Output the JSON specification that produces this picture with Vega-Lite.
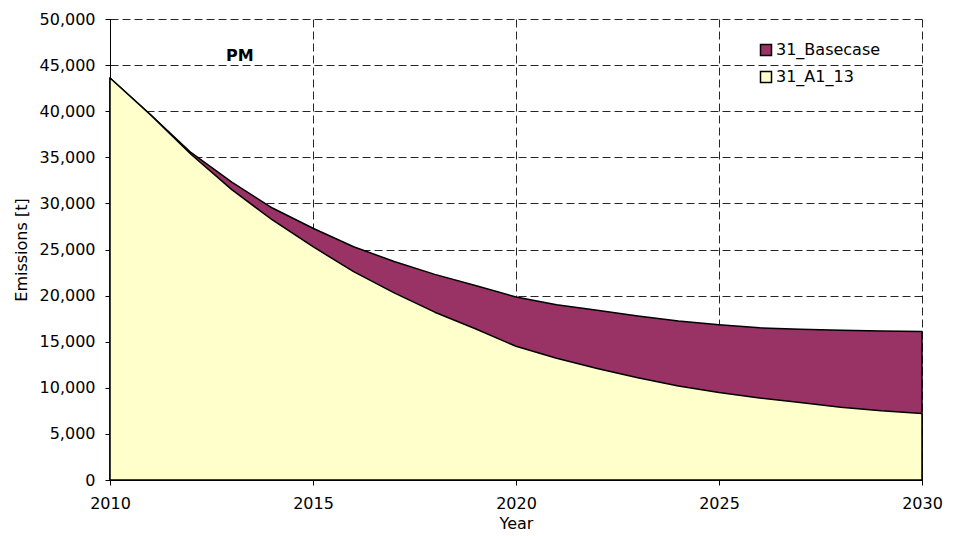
{
  "$schema": "https://vega.github.io/schema/vega-lite/v6.json",
  "width": 812,
  "height": 461,
  "autosize": "none",
  "padding": {"left": 110, "top": 19, "right": 33, "bottom": 56},
  "background": "white",
  "config": {
    "font": "DejaVu Sans",
    "view": {"stroke": null},
    "axis": {
      "labelFont": "DejaVu Sans",
      "titleFont": "DejaVu Sans",
      "labelFontSize": 16,
      "titleFontSize": 16,
      "titleFontWeight": "normal",
      "labelColor": "#000000",
      "titleColor": "#000000",
      "domainColor": "#000000",
      "tickColor": "#000000",
      "gridColor": "#000000",
      "gridDash": [8, 4],
      "gridWidth": 1,
      "gridOpacity": 0.85,
      "tickSize": 5,
      "labelFlush": false,
      "labelOverlap": false
    }
  },
  "datasets": {
    "series": [
      {"year": 2010, "series": "31_Basecase", "value": 43600},
      {"year": 2011, "series": "31_Basecase", "value": 39600},
      {"year": 2012, "series": "31_Basecase", "value": 35500},
      {"year": 2013, "series": "31_Basecase", "value": 32300},
      {"year": 2014, "series": "31_Basecase", "value": 29500},
      {"year": 2015, "series": "31_Basecase", "value": 27300},
      {"year": 2016, "series": "31_Basecase", "value": 25300},
      {"year": 2017, "series": "31_Basecase", "value": 23700},
      {"year": 2018, "series": "31_Basecase", "value": 22300},
      {"year": 2019, "series": "31_Basecase", "value": 21100},
      {"year": 2020, "series": "31_Basecase", "value": 19850},
      {"year": 2021, "series": "31_Basecase", "value": 19000},
      {"year": 2022, "series": "31_Basecase", "value": 18400},
      {"year": 2023, "series": "31_Basecase", "value": 17800},
      {"year": 2024, "series": "31_Basecase", "value": 17250},
      {"year": 2025, "series": "31_Basecase", "value": 16850},
      {"year": 2026, "series": "31_Basecase", "value": 16500},
      {"year": 2027, "series": "31_Basecase", "value": 16350},
      {"year": 2028, "series": "31_Basecase", "value": 16230},
      {"year": 2029, "series": "31_Basecase", "value": 16150},
      {"year": 2030, "series": "31_Basecase", "value": 16100},
      {"year": 2010, "series": "31_A1_13", "value": 43600},
      {"year": 2011, "series": "31_A1_13", "value": 39600},
      {"year": 2012, "series": "31_A1_13", "value": 35300},
      {"year": 2013, "series": "31_A1_13", "value": 31500},
      {"year": 2014, "series": "31_A1_13", "value": 28200},
      {"year": 2015, "series": "31_A1_13", "value": 25300},
      {"year": 2016, "series": "31_A1_13", "value": 22600},
      {"year": 2017, "series": "31_A1_13", "value": 20300},
      {"year": 2018, "series": "31_A1_13", "value": 18200},
      {"year": 2019, "series": "31_A1_13", "value": 16400},
      {"year": 2020, "series": "31_A1_13", "value": 14500},
      {"year": 2021, "series": "31_A1_13", "value": 13200},
      {"year": 2022, "series": "31_A1_13", "value": 12100},
      {"year": 2023, "series": "31_A1_13", "value": 11100},
      {"year": 2024, "series": "31_A1_13", "value": 10200},
      {"year": 2025, "series": "31_A1_13", "value": 9500},
      {"year": 2026, "series": "31_A1_13", "value": 8900},
      {"year": 2027, "series": "31_A1_13", "value": 8400},
      {"year": 2028, "series": "31_A1_13", "value": 7900},
      {"year": 2029, "series": "31_A1_13", "value": 7500},
      {"year": 2030, "series": "31_A1_13", "value": 7200}
    ],
    "label": [{"year": 2013.2, "value": 46000, "text": "PM"}]
  },
  "layer": [
    {
      "data": {"name": "series"},
      "transform": [{"filter": "datum.series === '31_Basecase'"}],
      "mark": {"type": "area", "stroke": "#000000", "strokeWidth": 1.5, "strokeJoin": "round"},
      "encoding": {
        "x": {
          "field": "year", "type": "quantitative",
          "scale": {"domain": [2010, 2030], "nice": false, "zero": false},
          "axis": {"values": [2010, 2015, 2020, 2025, 2030], "format": "d", "title": "Year", "labelPadding": 10, "titlePadding": 4, "grid": true}
        },
        "y": {
          "field": "value", "type": "quantitative", "stack": null,
          "scale": {"domain": [0, 50000], "nice": false},
          "axis": {"values": [0,5000,10000,15000,20000,25000,30000,35000,40000,45000,50000], "format": ",d", "title": "Emissions [t]", "labelPadding": 10, "titlePadding": 10, "grid": true}
        },
        "color": {
          "field": "series", "type": "nominal",
          "scale": {"domain": ["31_Basecase", "31_A1_13"], "range": ["#993366", "#FFFFCC"]},
          "legend": {
            "title": null, "orient": "none", "legendX": 648, "legendY": 23,
            "symbolType": "square", "symbolSize": 121, "symbolStrokeColor": "#000000", "symbolStrokeWidth": 1.5,
            "symbolOpacity": 1, "labelFontSize": 16, "labelFont": "DejaVu Sans", "labelColor": "#000000",
            "rowPadding": 9, "labelOffset": 2, "padding": 0
          }
        },
        "opacity": {"value": 1}
      }
    },
    {
      "data": {"name": "series"},
      "transform": [{"filter": "datum.series === '31_A1_13'"}],
      "mark": {"type": "area", "stroke": "#000000", "strokeWidth": 1.5, "strokeJoin": "round"},
      "encoding": {
        "x": {"field": "year", "type": "quantitative"},
        "y": {"field": "value", "type": "quantitative", "stack": null},
        "color": {"field": "series", "type": "nominal"},
        "opacity": {"value": 1}
      }
    },
    {
      "data": {"name": "label"},
      "mark": {"type": "text", "fontWeight": "bold", "fontSize": 16, "font": "DejaVu Sans", "color": "#000000"},
      "encoding": {
        "x": {"field": "year", "type": "quantitative"},
        "y": {"field": "value", "type": "quantitative"},
        "text": {"field": "text"}
      }
    }
  ]
}
